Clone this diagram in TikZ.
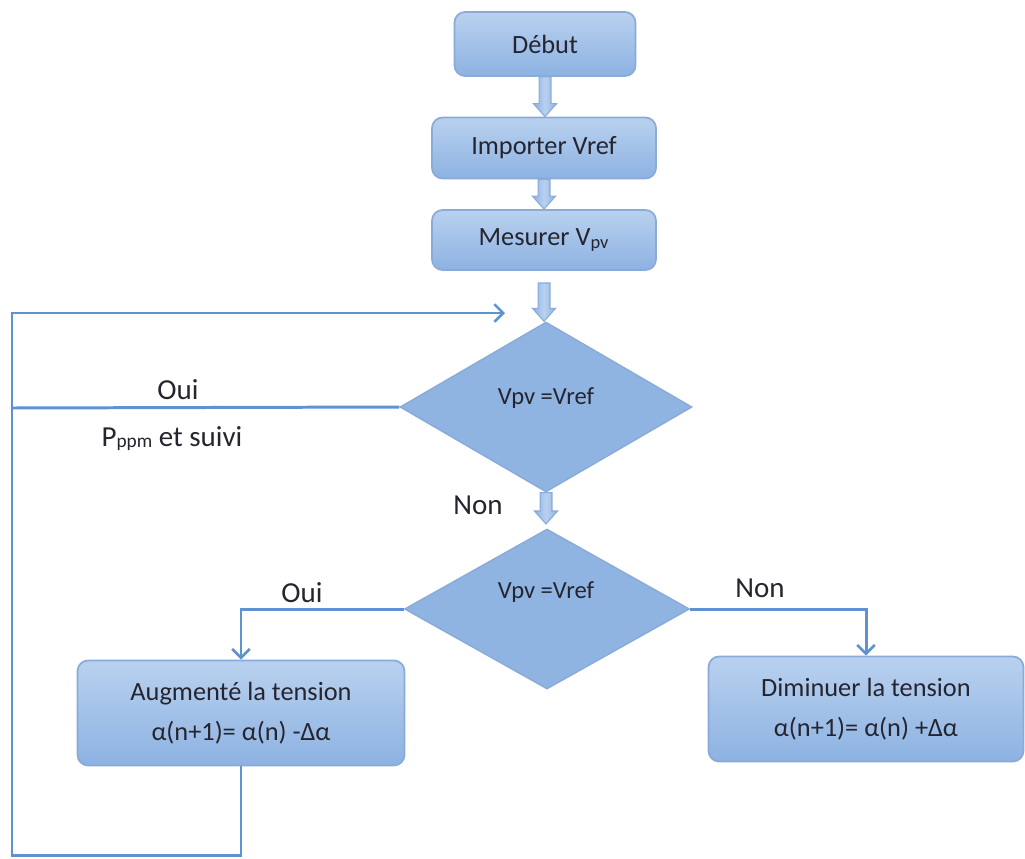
\documentclass[tikz,border=0pt]{standalone}
\usepackage{fontspec}
\setmainfont{Carlito}
\usetikzlibrary{shapes.geometric,arrows.meta,calc}
\definecolor{boxtop}{HTML}{B9D1EF}
\definecolor{boxbot}{HTML}{8DB2E2}
\definecolor{boxedge}{HTML}{8AABD8}
\definecolor{diafill}{HTML}{8FB4E2}
\definecolor{linec}{HTML}{5E92D2}
\definecolor{txtc}{HTML}{25252F}
\tikzset{
  stepbox/.style={draw=boxedge, line width=1pt, rounded corners=6pt, top color=boxtop, bottom color=boxbot, text=txtc, align=center, inner sep=0pt},
  dia/.style={diamond, draw=boxedge, line width=0.8pt, fill=diafill, inner sep=0pt},
  txt/.style={text=txtc, font=\fontsize{14}{17}\selectfont},
  lbl/.style={text=txtc, font=\fontsize{16.5}{20}\selectfont},
  conn/.style={draw=linec, line width=1.7pt},
  tip/.style={-{Straight Barb[length=5pt,width=10pt,line width=1.5pt]}},
  barrowst/.style={draw=boxedge, line width=0.6pt, left color=boxbot, right color=boxbot, middle color=boxtop}
}
\newcommand{\blockarrow}[2]{%
  \path[barrowst] let \p1=(#1), \p2=(#2) in
    ({\x1-3.4pt},\y1) -- ({\x1+3.4pt},\y1) -- ({\x1+3.4pt},{\y2+7.4pt}) -- ({\x1+6.6pt},{\y2+7.4pt})
    -- (\x1,\y2) -- ({\x1-6.6pt},{\y2+7.4pt}) -- ({\x1-3.4pt},{\y2+7.4pt}) -- cycle;}
\begin{document}
\begin{tikzpicture}[x=0.02cm,y=-0.02cm]
\useasboundingbox[fill=white] (0,0) rectangle (1025,859);
% boxes
\node[stepbox, minimum width=3.62cm, minimum height=1.28cm, font=\fontsize{15}{18}\selectfont] (debut) at (545,44) {Début};
\node[stepbox, minimum width=4.48cm, minimum height=1.22cm, font=\fontsize{15}{18}\selectfont] (imp) at (544,148) {Importer Vref};
\node[stepbox, minimum width=4.48cm, minimum height=1.2cm, font=\fontsize{15}{18}\selectfont] (mes) at (544,240) {Mesurer V\textsubscript{pv}};
\node[dia, minimum width=5.84cm, minimum height=3.4cm] (d1) at (546,407) {};
\node[txt] (t1) at (546,398) {Vpv =Vref};
\node[dia, minimum width=5.7cm, minimum height=3.2cm] (d2) at (547,609) {};
\node[txt] (t2) at (546,592) {Vpv =Vref};
\node[stepbox, minimum width=6.54cm, minimum height=2.1cm, font=\fontsize{15}{21}\selectfont] (aug) at (241,713) {Augmenté la tension\\[2pt] α(n+1)= α(n) -Δα};
\node[stepbox, minimum width=6.3cm, minimum height=2.1cm, font=\fontsize{15}{21}\selectfont] (dim) at (866,709) {Diminuer la tension\\[2pt] α(n+1)= α(n) +Δα};
% coordinates
\coordinate (m0) at (544,283);
\coordinate (d2top) at (546,524);
\coordinate (lbl) at (12,855);
\coordinate (ltl) at (12,313);
\coordinate (lend) at (505,313);
\coordinate (oj) at (12,408);
% block arrows
\blockarrow{debut.south}{imp.north}
\blockarrow{imp.south}{mes.north}
\blockarrow{m0}{d1.north}
\blockarrow{d1.south}{d2top}
% thin connectors
\draw[conn] (d1.west) -- (oj);
\draw[conn, tip] (aug.south) |- (lbl) -- (ltl) -- (lend);
\draw[conn, tip] (d2.west) -| (aug.north);
\draw[conn, tip] (d2.east) -| (dim.north);
% labels
\node[lbl] (oui1) at (178,390) {Oui};
\node[lbl] (ppm) at (172,439) {P{\fontsize{11}{13}\selectfont\raisebox{-0.5pt}{ppm}} et suivi};
\node[lbl] (non1) at (478,505) {Non};
\node[lbl] (oui2) at (302,593) {Oui};
\node[lbl] (non2) at (760,588) {Non};
\end{tikzpicture}
\end{document}
